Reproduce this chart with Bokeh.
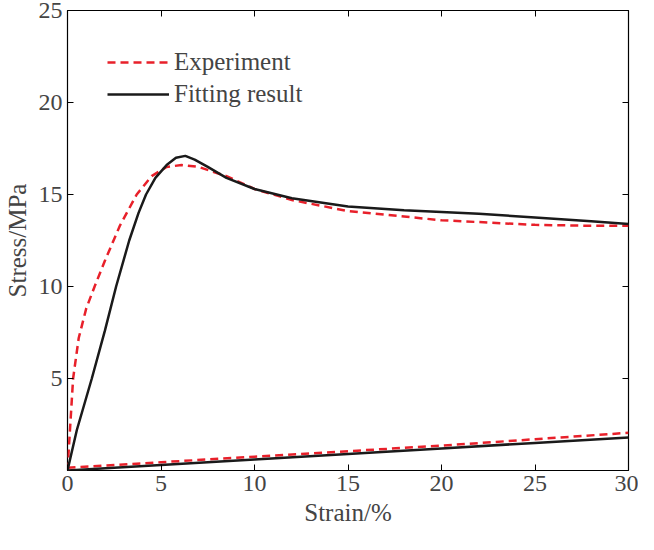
from bokeh.plotting import figure
from bokeh.models import LinearAxis, Range1d, Legend, LegendItem, FixedTicker, CustomJSTickFormatter
from bokeh.embed import file_html
from bokeh.resources import INLINE

exp_x = [0, 0.15, 0.3, 0.6, 1.0, 1.45, 2.0, 2.8, 3.7, 4.5, 5.3, 6.1, 7.0, 8.5, 10, 12, 15, 18, 20, 22, 25, 28, 30]
exp_y = [0, 2.5, 5.0, 7.2, 8.8, 10.0, 11.4, 13.3, 15.0, 16.0, 16.5, 16.6, 16.5, 16.0, 15.3, 14.7, 14.1, 13.8, 13.6, 13.5, 13.35, 13.3, 13.3]
exp_ux = [0, 5, 10, 15, 20, 25, 30]
exp_uy = [0.15, 0.45, 0.75, 1.05, 1.35, 1.7, 2.05]
fit_x = [0, 0.5, 1.3, 2.0, 2.6, 3.3, 3.8, 4.2, 4.7, 5.3, 5.8, 6.3, 6.8, 7.5, 8.5, 10, 12, 15, 18, 20, 22, 25, 28, 30]
fit_y = [0, 2.2, 5.0, 7.6, 10.0, 12.5, 14.0, 15.0, 15.9, 16.6, 17.0, 17.1, 16.9, 16.5, 15.9, 15.3, 14.8, 14.35, 14.15, 14.05, 13.95, 13.75, 13.55, 13.4]
fit_ux = [0, 5, 10, 15, 20, 25, 30]
fit_uy = [0.0, 0.3, 0.6, 0.9, 1.2, 1.5, 1.8]

FONT = "Liberation Serif"
p = figure(width=638, height=534, output_backend="svg", toolbar_location=None,
           x_range=Range1d(0, 30), y_range=Range1d(0, 25),
           min_border_left=64, min_border_bottom=64, min_border_top=10, min_border_right=10)
p.grid.visible = False
p.outline_line_color = "black"
p.outline_line_width = 1.2

e1 = p.line(exp_x, exp_y, color="#e8202a", line_width=2.5, line_dash="8 5")
p.line(exp_ux, exp_uy, color="#e8202a", line_width=2.5, line_dash="8 5")
f1 = p.line(fit_x, fit_y, color="#1a1a1a", line_width=2.5)
p.line(fit_ux, fit_uy, color="#1a1a1a", line_width=2.5)

for ax in p.xaxis + p.yaxis:
    ax.major_tick_in = 6; ax.major_tick_out = 0
    ax.minor_tick_in = 0; ax.minor_tick_out = 0
    ax.axis_line_color = None
    ax.major_label_text_font = FONT
    ax.major_label_text_font_size = "24px"
    ax.axis_label_text_font = FONT
    ax.axis_label_text_font_size = "25px"
    ax.axis_label_text_font_style = "normal"
p.xaxis.ticker = FixedTicker(ticks=[0, 5, 10, 15, 20, 25, 30])
p.yaxis.ticker = FixedTicker(ticks=[5, 10, 15, 20, 25])
p.xaxis.axis_label = "Strain/%"
p.yaxis.axis_label = "Stress/MPa"

for loc, t in (("right", [5, 10, 15, 20, 25]), ("above", [0, 5, 10, 15, 20, 25, 30])):
    a = LinearAxis(ticker=FixedTicker(ticks=t), formatter=CustomJSTickFormatter(code="return ''"),
                   major_tick_in=6, major_tick_out=0, minor_tick_in=0, minor_tick_out=0,
                   axis_line_color=None, major_label_standoff=0)
    p.add_layout(a, loc)

leg = Legend(items=[LegendItem(label="Experiment", renderers=[e1]),
                    LegendItem(label="Fitting result", renderers=[f1])],
             location=(40, 362), border_line_color=None, background_fill_alpha=0,
             label_text_font=FONT, label_text_font_size="25px", glyph_width=62, spacing=4)
p.add_layout(leg, "center")

open("out.html", "w").write(file_html(p, INLINE))
